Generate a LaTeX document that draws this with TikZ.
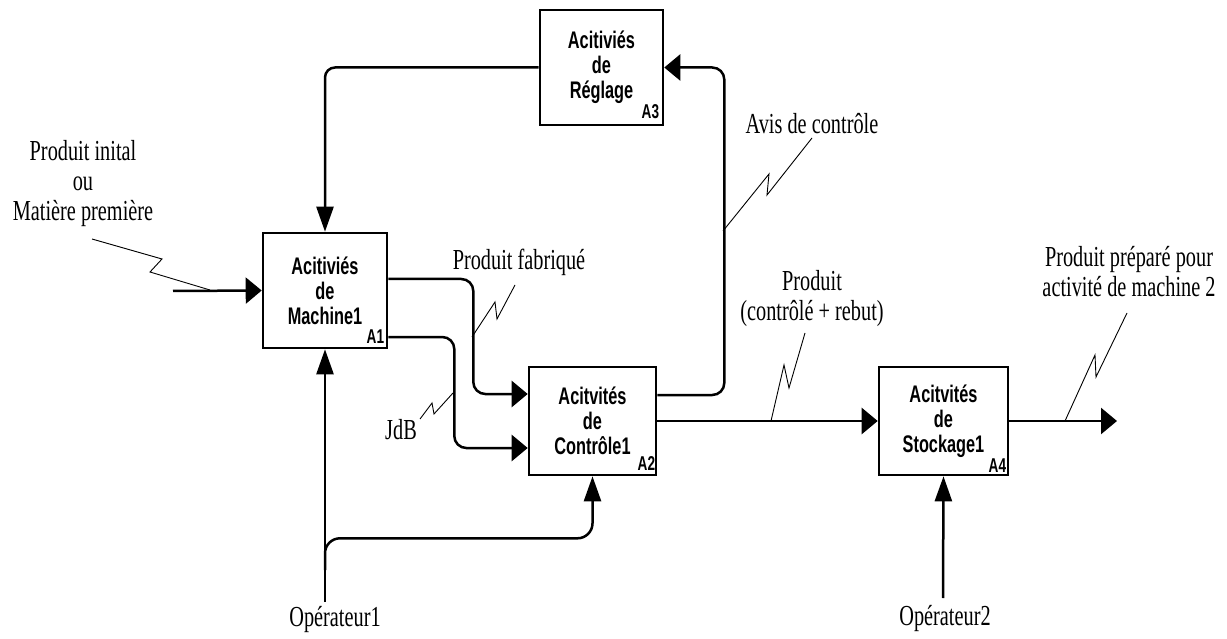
\documentclass[tikz,border=0pt]{standalone}
\usepackage{fontspec}
\setmainfont{Liberation Serif}[FakeStretch=0.7]
\newfontfamily\boxfont{Liberation Sans}[FakeStretch=0.68]
\usetikzlibrary{arrows.meta}

\begin{document}
\begin{tikzpicture}[
  x=1pt, y=-1pt,
  font=\fontsize{29}{30}\selectfont,
  act/.style={draw, line width=2.6pt, inner sep=0pt, align=center,
    font=\boxfont\bfseries\fontsize{24}{25}\selectfont},
  num/.style={inner sep=0pt, font=\boxfont\bfseries\fontsize{20}{20}\selectfont},
  lbl/.style={inner sep=0pt, align=center},
  flow/.style={line width=2.5pt},
  harr/.style={-{Triangle[length=16pt,width=26pt]}},
  varr/.style={-{Triangle[length=25pt,width=17pt]}},
  lead/.style={line width=0.9pt}
]
\useasboundingbox (0,0) rectangle (1227,639);

% activity boxes
\node[act, minimum width=124pt, minimum height=115pt] (a1) at (325,290.5)
  {Acitiviés\\de\\Machine1};
\node[act, minimum width=127pt, minimum height=108pt] (a2) at (592.5,421)
  {Acitvités\\de\\Contrôle1};
\node[act, minimum width=123pt, minimum height=115pt] (a3) at (601.5,67.5)
  {Acitiviés\\de\\Réglage};
\node[act, minimum width=129pt, minimum height=108pt] (a4) at (943.5,421)
  {Acitvités\\de\\Stockage1};

\node[num, anchor=south east] (a1n) at ([xshift=-4pt,yshift=6pt]a1.south east) {A1};
\node[num, anchor=south east] (a2n) at ([xshift=-2pt,yshift=6pt]a2.south east) {A2};
\node[num, anchor=south east] (a3n) at ([xshift=-5pt,yshift=7pt]a3.south east) {A3};
\node[num, anchor=south east] (a4n) at ([xshift=-3pt,yshift=4pt]a4.south east) {A4};

% labels
\node[lbl] (inlbl) at (83,184) {Produit inital\\ou\\Matière première};
\node[lbl] (fablbl) at (519,262) {Produit fabriqué};
\node[lbl] (jdblbl) at (401,430) {JdB};
\node[lbl] (avislbl) at (812,124) {Avis de contrôle};
\node[lbl] (prodlbl) at (812,299) {Produit\\(contrôlé + rebut)};
\node[lbl] (outlbl) at (1129,272) {Produit préparé pour\\activité de machine 2};
\node[lbl] (op1lbl) at (335,620) {Opérateur1};
\node[lbl] (op2lbl) at (945,619) {Opérateur2};

% free ends
\coordinate (in1) at (173,291);
\coordinate (out1) at (1117,421);
\coordinate (op1) at (325,602);
\coordinate (op1b) at (325,570);
\coordinate (op2) at (943,598);

% arrows
\draw[flow, harr] (in1) -- (a1.west);
\draw[flow, varr, rounded corners=10pt] (a3.west) -| (a1.north);
\draw[flow, varr] (op1) -- (a1.south);
\draw[flow, varr, rounded corners=15pt] (op1b) |- ([yshift=-62pt]a2.south) -- (a2.south);
\draw[flow, harr, rounded corners=12pt] ([yshift=11.5pt]a1.east) -- ++(85,0)
  |- ([yshift=27pt]a2.west);
\draw[flow, harr, rounded corners=12pt] ([yshift=-46.5pt]a1.east) -- ++(66,0)
  |- ([yshift=-27pt]a2.west);
\draw[flow, harr, rounded corners=12pt] ([yshift=26pt]a2.east) -- ++(67,0)
  |- (a3.east);
\draw[flow, harr] (a2.east) -- (a4.west);
\draw[flow, harr] (a4.east) -- (out1);
\draw[flow, varr] (op2) -- (a4.south);

% leaders
\coordinate (ins) at (92,239);  \coordinate (ine) at (210,290);
\coordinate (fabs) at (515,285); \coordinate (fabe) at (472,337);
\coordinate (jdbs) at (420,419); \coordinate (jdbe) at (453,393);
\coordinate (aviss) at (812,138); \coordinate (avise) at (723,231);
\coordinate (prods) at (805,333); \coordinate (prode) at (771,421);
\coordinate (outs) at (1127,313); \coordinate (oute) at (1065,421);

\draw[lead] (ins) -- ++(70,20) -- ++(-12,13) -- (ine);
\draw[lead] (fabs) -- ++(-18,34) -- ++(-2,-17) -- (fabe);
\draw[lead] (jdbs) -- ++(12,-16) -- ++(2,11) -- (jdbe);
\draw[lead] (aviss) -- ++(-45,57) -- ++(2,-21) -- (avise);
\draw[lead] (prods) -- ++(-16,55) -- ++(-5,-23) -- (prode);
\draw[lead] (outs) -- ++(-31,64) -- ++(-1,-22) -- (oute);
\end{tikzpicture}
\end{document}
